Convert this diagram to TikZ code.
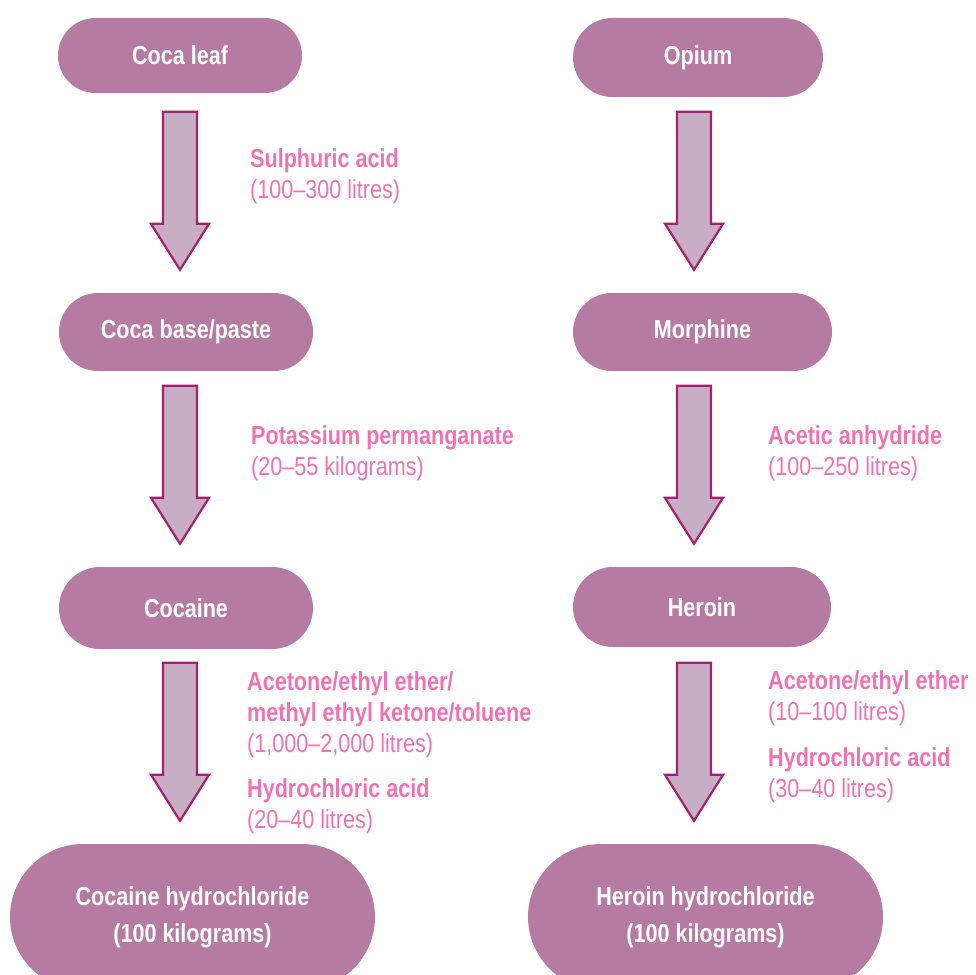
\documentclass[tikz,border=0pt]{standalone}
\usepackage{fontspec}
\setmainfont[FakeStretch=0.83]{Liberation Sans}
\usetikzlibrary{calc}
\definecolor{pillcol}{HTML}{B67BA3}
\definecolor{arrowfill}{HTML}{C8AEC5}
\definecolor{arrowline}{HTML}{A1226F}
\definecolor{labelpink}{HTML}{F072B2}
\newcommand{\stepdown}[3]{%
\draw[arrowbox] let \p1 = (#2.north), \p2 = (#3, 0) in
  (\x2-17pt, \y1+181pt) -- (\x2+17pt, \y1+181pt) -- (\x2+17pt, \y1+69pt)
  -- (\x2+29pt, \y1+69pt) -- (\x2, \y1+23pt) -- (\x2-29pt, \y1+69pt)
  -- (\x2-17pt, \y1+69pt) -- cycle;}
\begin{document}
\begin{tikzpicture}[x=1pt, y=-1pt,
  pill/.style = {rectangle, fill = pillcol, text = white, align = center,
    font = \fontsize{26}{37}\selectfont\bfseries, inner sep = 0pt},
  arrowbox/.style = {fill = arrowfill, draw = arrowline, line width = 2.2pt, line join = miter},
  chem/.style = {anchor = north west, align = left, text = labelpink, inner sep = 0pt,
    font = \fontsize{26}{31}\selectfont}]
\useasboundingbox (0, 0) rectangle (976, 974);
\node[pill, minimum width = 244, minimum height = 75, rounded corners = 37.5] (cocaleaf) at (180, 55.5) {Coca leaf};
\node[pill, minimum width = 250, minimum height = 79, rounded corners = 39.5] (opium) at (698, 57.5) {Opium};
\node[pill, minimum width = 254, minimum height = 78, rounded corners = 39] (cocabase) at (186, 332) {Coca base/paste};
\node[pill, minimum width = 259, minimum height = 78, rounded corners = 39] (morphine) at (702.5, 332) {Morphine};
\node[pill, minimum width = 254, minimum height = 82, rounded corners = 41] (cocaine) at (186, 608) {Cocaine};
\node[pill, minimum width = 258, minimum height = 80, rounded corners = 40] (heroin) at (702, 607) {Heroin};
\node[pill, minimum width = 365, minimum height = 146, rounded corners = 73] (cocainehcl) at (192.5, 917) {Cocaine hydrochloride\\(100 kilograms)};
\node[pill, minimum width = 355, minimum height = 146, rounded corners = 73] (heroinhcl) at (705.5, 917) {Heroin hydrochloride\\(100 kilograms)};
\stepdown{cocaleaf}{cocabase}{180}
\stepdown{cocabase}{cocaine}{180}
\stepdown{cocaine}{cocainehcl}{180}
\stepdown{opium}{morphine}{694}
\stepdown{morphine}{heroin}{694}
\stepdown{heroin}{heroinhcl}{694}
\node[chem] (sulphuric) at (250, 148) {\textbf{Sulphuric acid}\\(100–300 litres)};
\node[chem] (potassium) at (251, 425) {\textbf{Potassium permanganate}\\(20–55 kilograms)};
\node[chem] (solventsl) at (247, 671) {\textbf{Acetone/ethyl ether/}\\\textbf{methyl ethyl ketone/toluene}\\(1,000–2,000 litres)\\[14pt]\textbf{Hydrochloric acid}\\(20–40 litres)};
\node[chem] (acetic) at (768, 425) {\textbf{Acetic anhydride}\\(100–250 litres)};
\node[chem] (solventsr) at (768, 670) {\textbf{Acetone/ethyl ether}\\(10–100 litres)\\[15pt]\textbf{Hydrochloric acid}\\(30–40 litres)};
\end{tikzpicture}
\end{document}
